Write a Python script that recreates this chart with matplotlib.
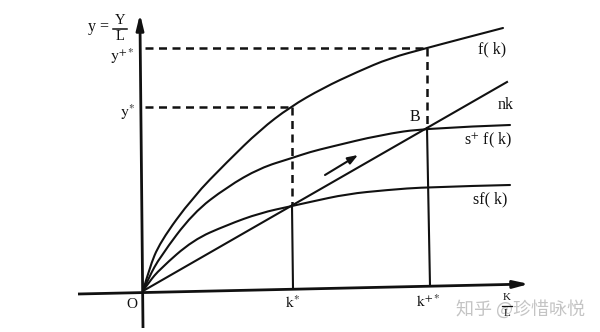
import matplotlib
matplotlib.use("Agg")
import matplotlib.pyplot as plt
from matplotlib.path import Path
from matplotlib.patches import PathPatch

plt.rcParams['mathtext.fontset'] = 'stix'
SERIF = 'Liberation Serif'

# ---- data (diagram units) ----
k_f = [0, 6, 17, 50, 84, 117, 147, 180, 214, 247, 284, 314, 360]
f_vals = [0, 22, 49, 94, 129, 161, 184, 203, 219, 233, 243, 251, 263]

k_sp = [0, 6, 17, 50, 84, 117, 149, 167, 187, 237, 284, 367]
sp_vals = [0, 14, 34, 78, 104, 123, 133, 139, 144, 156, 163, 166]

k_s = [0, 6, 17, 50, 84, 117, 149, 167, 204, 244, 284, 367]
s_vals = [0, 9, 22, 51, 66, 78, 85, 89, 97, 101, 104, 106]

k_n = [0, 364]
n_vals = [0, 209]

k_star, y_star = 149, 184        # k*, y*
k_pp, y_pp = 284, 243            # k+*, y+*
B_val = 163

fig = plt.figure(figsize=(6, 3.32), dpi=100)
ax = fig.add_axes([0, 0, 1, 1])
ax.set_xlim(-143, 457)
ax.set_ylim(-41, 291)
ax.axis('off')

lc = '#111111'
lw = 1.5


def smooth_curve(xs, ys, **kw):
    """Draw a smooth quadratic-spline path through the read points."""
    pts = list(zip(xs, ys))
    verts = [pts[0]]
    codes = [Path.MOVETO]
    n = len(pts)
    for i in range(1, n - 1):
        ctrl = pts[i]
        if i < n - 2:
            end = ((pts[i][0] + pts[i + 1][0]) / 2, (pts[i][1] + pts[i + 1][1]) / 2)
        else:
            end = pts[-1]
        verts += [ctrl, end]
        codes += [Path.CURVE3, Path.CURVE3]
    patch = PathPatch(Path(verts, codes), facecolor='none', edgecolor=lc,
                      lw=lw, capstyle='round', joinstyle='round', **kw)
    ax.add_patch(patch)


# axes
ax.plot([0, -3], [-37, 268], color=lc, lw=2.0, solid_capstyle='butt')
ax.annotate('', xy=(-3, 277), xytext=(-3, 262),
            arrowprops=dict(arrowstyle='-|>,head_width=0.22,head_length=0.9',
                            color=lc, lw=2.0, shrinkA=0, shrinkB=0))
ax.plot([-65, 377], [-3, 6.8], color=lc, lw=2.0, solid_capstyle='butt')
ax.annotate('', xy=(386, 7), xytext=(370, 6.6),
            arrowprops=dict(arrowstyle='-|>,head_width=0.22,head_length=0.9',
                            color=lc, lw=2.0, shrinkA=0, shrinkB=0))

# curves
smooth_curve(k_f, f_vals)
smooth_curve(k_sp, sp_vals)
smooth_curve(k_s, s_vals)
ax.plot(k_n, n_vals, color=lc, lw=lw)

# dashed guides
dash = dict(color=lc, lw=1.8, linestyle=(0, (3.2, 2.2)))
n_at_kstar = k_star * n_vals[1] / k_n[1]
ax.plot([2, k_star], [y_star, y_star], **dash)
ax.plot([k_star, k_star], [y_star, n_at_kstar], **dash)
ax.plot([2, k_pp], [y_pp, y_pp], **dash)
ax.plot([k_pp, k_pp], [y_pp, B_val], **dash)

# solid verticals
ax.plot([k_star, k_star + 1], [n_at_kstar, 2.5], color=lc, lw=lw)
ax.plot([k_pp, k_pp + 3], [B_val, 5.5], color=lc, lw=lw)

# direction arrow
ax.annotate('', xy=(215, 136), xytext=(182, 116),
            arrowprops=dict(arrowstyle='-|>,head_width=0.22,head_length=0.6',
                            color=lc, lw=1.5, shrinkA=0, shrinkB=0))

# labels
fs = 11.5
def T(x, y, s, **kw):
    kw.setdefault('fontsize', fs)
    kw.setdefault('ha', 'center')
    kw.setdefault('va', 'center')
    ax.text(x, y, s, family=SERIF, color=lc, **kw)

T(349, 242, 'f( k)')
T(363, 186, 'nk')
T(272, 174, 'B')
T(345, 151, r's$^{+}$ f( k)')
T(347, 92, 'sf( k)')

# y = Y / L
T(-44, 264, 'y =', fontsize=11.5)
T(-23, 270, 'Y', fontsize=10.5)
ax.plot([-30, -16], [262, 262], color=lc, lw=1.1)
T(-23, 254, 'L', fontsize=10.5)

T(-9, 235, r'$\mathrm{y}^{+*}$', ha='right', fontsize=11.5)
T(-8, 179, r'$\mathrm{y}^{*}$', ha='right', fontsize=11.5)
T(-11, -13, 'O', fontsize=11)
T(150, -13, r'$\mathrm{k}^{*}$', fontsize=11.5)
T(285, -12, r'$\mathrm{k}^{+*}$', fontsize=11.5)

ax.text(377, -18, '知乎 @珍惜咏悦', family=['Noto Sans CJK SC', 'DejaVu Sans'],
        color='#c4c4c4', fontsize=13, ha='center', va='center', zorder=1)
# K / L
T(364, -6, 'K', fontsize=8, zorder=3)
ax.plot([359, 369], [-15, -15], color=lc, lw=0.9, zorder=3)
T(364, -23, 'L', fontsize=8, zorder=3)

fig.savefig('out.png', dpi=100, facecolor='white')
